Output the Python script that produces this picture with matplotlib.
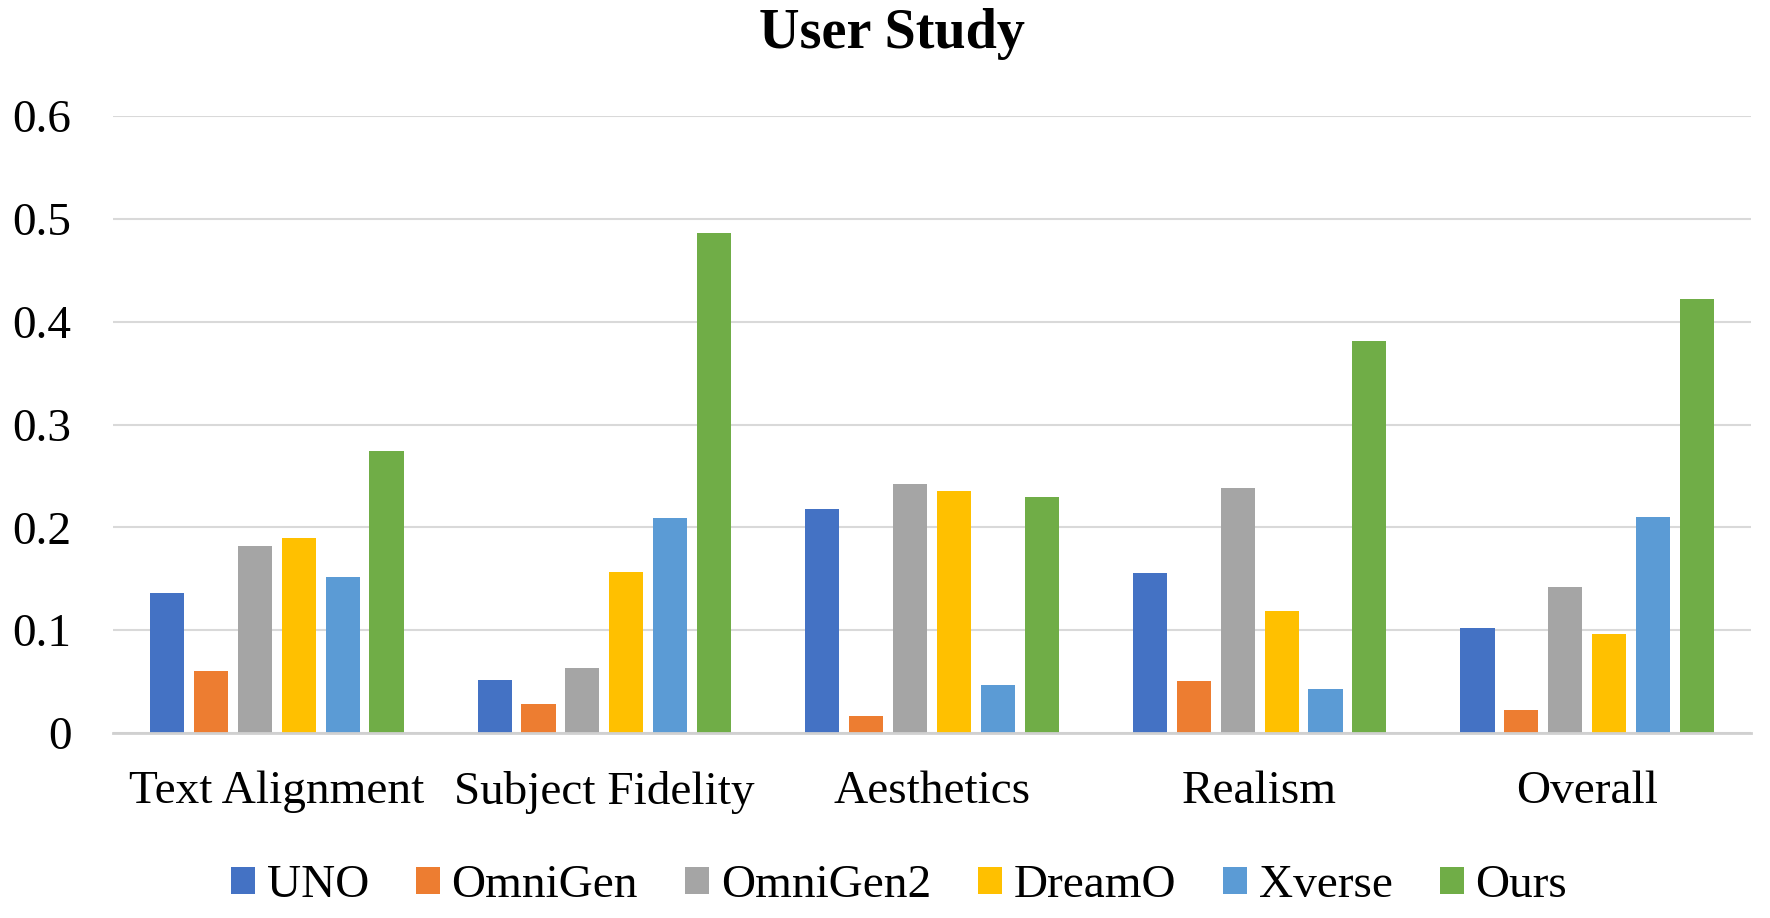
import matplotlib
matplotlib.use("Agg")
import matplotlib.pyplot as plt
import numpy as np
from matplotlib.patches import Patch

categories = ["Text Alignment", "Subject Fidelity", "Aesthetics", "Realism", "Overall"]
methods = ["UNO", "OmniGen", "OmniGen2", "DreamO", "Xverse", "Ours"]
uno = [0.136, 0.052, 0.218, 0.156, 0.102]
omnigen = [0.060, 0.028, 0.017, 0.051, 0.022]
omnigen2 = [0.182, 0.063, 0.242, 0.238, 0.142]
dreamo = [0.190, 0.157, 0.235, 0.119, 0.096]
xverse = [0.152, 0.209, 0.047, 0.043, 0.210]
ours = [0.274, 0.486, 0.230, 0.381, 0.422]
series = [uno, omnigen, omnigen2, dreamo, xverse, ours]
colors = ["#4472C4", "#ED7D31", "#A5A5A5", "#FFC000", "#5B9BD5", "#70AD47"]
yticks = [0, 0.1, 0.2, 0.3, 0.4, 0.5, 0.6]
ytick_labels = ["0", "0.1", "0.2", "0.3", "0.4", "0.5", "0.6"]

plt.rcParams['font.family'] = ['Liberation Serif', 'DejaVu Serif']

fig = plt.figure(figsize=(17.7, 9.18), dpi=100)
ax = fig.add_axes([0.0638, 0.2015, 0.9893 - 0.0638, 0.8736 - 0.2015])

x = np.arange(len(categories))
pitch = 0.134
width = 0.104
for j, (vals, c) in enumerate(zip(series, colors)):
    ax.bar(x + (j - 2.5) * pitch, vals, width=width, color=c, zorder=3)

ax.set_xlim(-0.5, len(categories) - 0.5)
ax.set_ylim(0, 0.6)
ax.set_yticks(yticks)
ax.set_yticklabels(ytick_labels)
ax.set_xticks(x)
ax.set_xticklabels(categories)
ax.tick_params(axis='y', length=0, pad=30, labelsize=34)
ax.tick_params(axis='x', length=0, pad=27, labelsize=34)
ax.grid(axis='y', color='#d9d9d9', linewidth=1.5, zorder=0)
for s in ['top', 'right', 'left']:
    ax.spines[s].set_visible(False)
ax.spines['bottom'].set_color('#d0d0d0')
ax.spines['bottom'].set_linewidth(2)
ax.spines['bottom'].set_zorder(4)

fig.text(0.504, 0.963, "User Study", ha='center', va='center', fontsize=40.5, fontweight='bold')

handles = [Patch(facecolor=c, edgecolor='none', label=m) for m, c in zip(methods, colors)]
fig.legend(handles=handles, loc='center', bbox_to_anchor=(0.508, 1 - 886 / 918), ncol=6,
           frameon=False, fontsize=34, handlelength=0.5, handleheight=0.5,
           handletextpad=0.25, columnspacing=1.0)

fig.savefig("out.png", dpi=100, facecolor='white')
